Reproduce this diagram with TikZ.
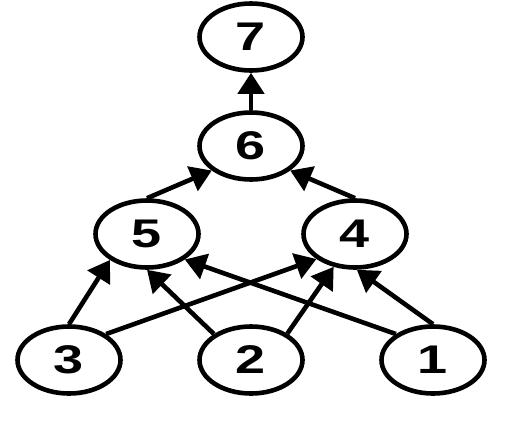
\documentclass[tikz,border=0pt]{standalone}
\usepackage{fontspec}
\setmainfont{Liberation Sans}
\usetikzlibrary{shapes.geometric,arrows.meta}
\newcommand{\vlbl}[1]{\scalebox{1.35}[1]{\fontsize{40}{40}\selectfont\bfseries #1}}
\begin{document}
\begin{tikzpicture}[x=1pt,y=-1pt,
  vert/.style={draw,ellipse,line width=4.6pt,minimum width=103pt,minimum height=67pt,inner sep=0pt},
  edge/.style={line width=4.6pt,-{Triangle[length=21pt,width=26pt]}}]
\useasboundingbox (0,0) rectangle (522,432);
\node[vert] (n7) at (251,37) {\vlbl{7}};
\node[vert] (n6) at (251,146) {\vlbl{6}};
\node[vert] (n5) at (147,234) {\vlbl{5}};
\node[vert] (n4) at (355,234) {\vlbl{4}};
\node[vert] (n3) at (69,360) {\vlbl{3}};
\node[vert] (n2) at (251,360) {\vlbl{2}};
\node[vert] (n1) at (433,360) {\vlbl{1}};
\draw[edge] (n6.90) -- (n7.270);
\draw[edge] (n5.90) -- (n6.212);
\draw[edge] (n4.90) -- (n6.328);
\draw[edge] (n3.90) -- (n5.215);
\draw[edge] (n3.35) -- (n4.213);
\draw[edge] (n2.145) -- (n5.270);
\draw[edge] (n2.36) -- (n4.237);
\draw[edge] (n1.145) -- (n5.326);
\draw[edge] (n1.90) -- (n4.273);
\end{tikzpicture}
\end{document}
